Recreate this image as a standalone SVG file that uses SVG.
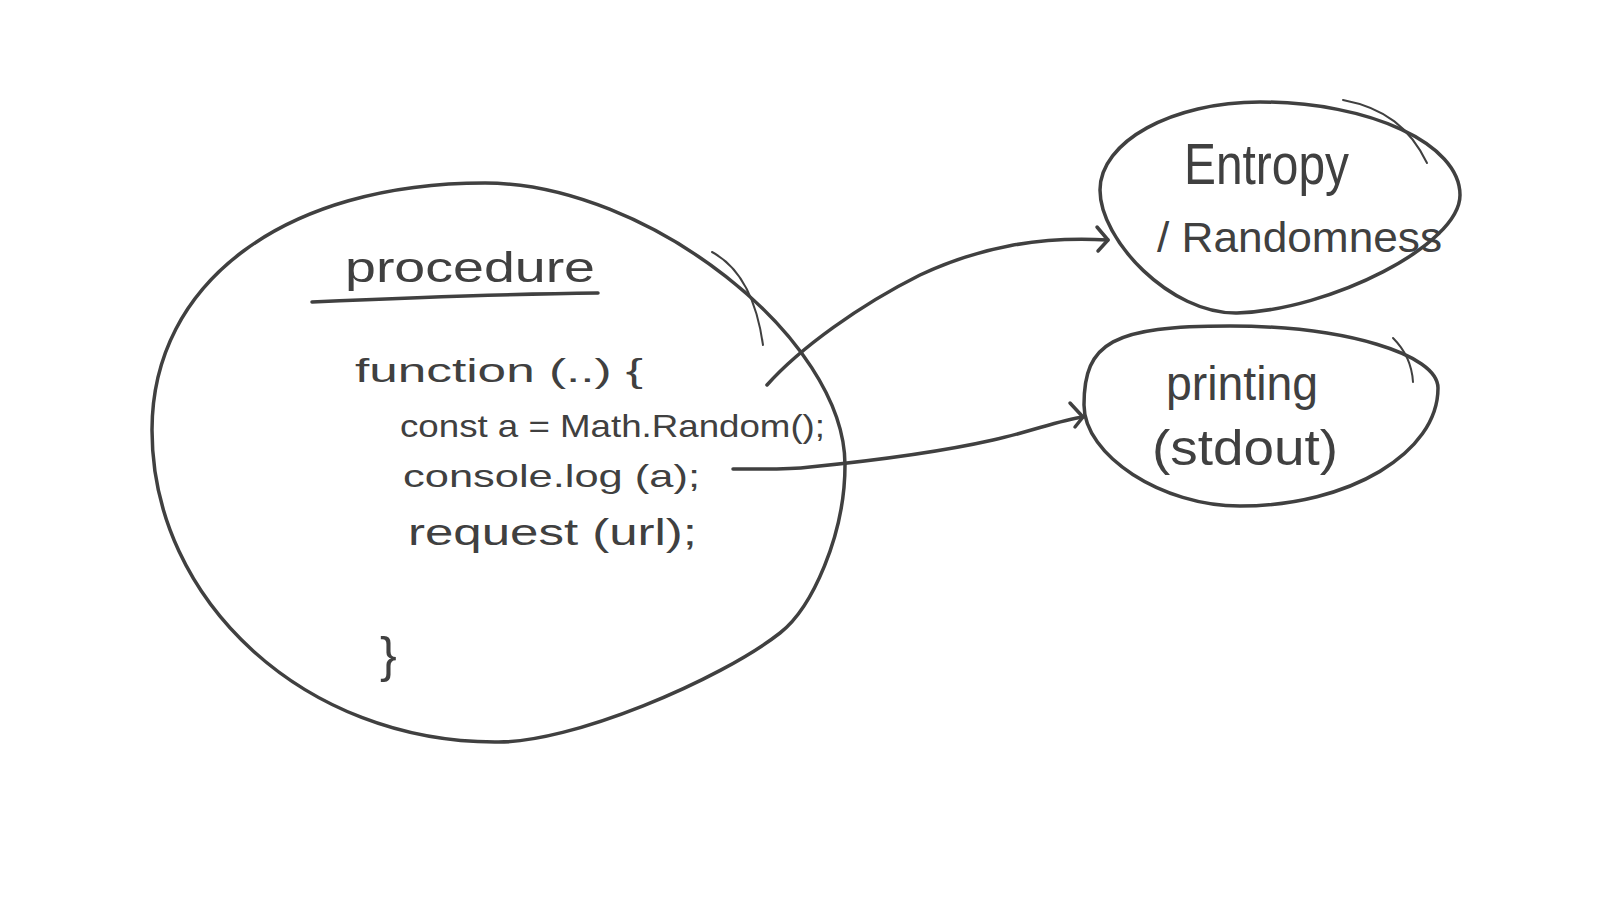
<svg xmlns="http://www.w3.org/2000/svg" width="1600" height="900" viewBox="0 0 1600 900">
  <style>
    .ink { fill: none; stroke: #404040; stroke-width: 3.5; stroke-linecap: round; stroke-linejoin: round; }
    .thin { fill: none; stroke: #404040; stroke-width: 2; stroke-linecap: round; }
    .txt { fill: #404040; font-family: "Liberation Sans", "DejaVu Sans", sans-serif; }
  </style>
  <rect width="1600" height="900" fill="#ffffff"/>

  <g id="node-procedure">
    <path class="ink" d="M485,183 C647,183 845,338 845,465 C845,535 812,608 780,633 C720,680 570,744 495,742 C306,742 152,602 152,430 C152,282 285,183 485,183 Z"/>
    <path class="thin" d="M712,252 C738,266 756,295 763,345"/>
    <text class="txt" x="345" y="282" font-size="42" textLength="250" lengthAdjust="spacingAndGlyphs">procedure</text>
    <path class="ink" stroke-width="2.5" d="M312,302 C400,298 500,294 598,293"/>
    <text class="txt" x="355" y="382" font-size="34" textLength="288" lengthAdjust="spacingAndGlyphs">function (..) {</text>
    <text class="txt" x="400" y="437" font-size="32" textLength="425" lengthAdjust="spacingAndGlyphs">const a = Math.Random();</text>
    <text class="txt" x="403" y="487" font-size="32" textLength="297" lengthAdjust="spacingAndGlyphs">console.log (a);</text>
    <text class="txt" x="408" y="545" font-size="36" textLength="289" lengthAdjust="spacingAndGlyphs">request (url);</text>
    <text class="txt" x="380" y="672" font-size="50">}</text>
  </g>

  <g id="node-entropy">
    <path class="ink" d="M1100,190 C1100,141.6 1172,102 1260,102 C1370,102 1460,144 1460,195 C1460,245 1330,310 1237,313 C1170,314 1100,240 1100,190 Z"/>
    <path class="thin" d="M1343,100 C1385,108 1410,128 1427,163"/>
    <text class="txt" x="1184" y="184" font-size="58" textLength="165" lengthAdjust="spacingAndGlyphs">Entropy</text>
    <text class="txt" x="1157" y="252" font-size="42" textLength="285" lengthAdjust="spacingAndGlyphs">/ Randomness</text>
  </g>

  <g id="node-printing">
    <path class="ink" d="M1084,405 C1084,342 1113,326 1230,326 C1344,326 1438,354 1438,388 C1438,453 1349,506 1240,506 C1162,506 1084,455.5 1084,405 Z"/>
    <path class="thin" d="M1393,338 C1405,350 1412,365 1413,382"/>
    <text class="txt" x="1166" y="400" font-size="48" textLength="152" lengthAdjust="spacingAndGlyphs">printing</text>
    <text class="txt" x="1152" y="465" font-size="50" textLength="186" lengthAdjust="spacingAndGlyphs">(stdout)</text>
  </g>

  <g id="connectors">
    <path class="ink" d="M767,385 C800,348 860,305 920,275 C980,247 1040,236 1108,240"/>
    <path class="ink" d="M1097,227 L1108,240 L1098,251"/>
    <path class="ink" d="M733,469 C760,469 785,470 810,467 C870,461 940,452 993,440 C1030,432 1060,420 1083,417"/>
    <path class="ink" d="M1070,403 L1083,417 L1075,427"/>
  </g>
</svg>
